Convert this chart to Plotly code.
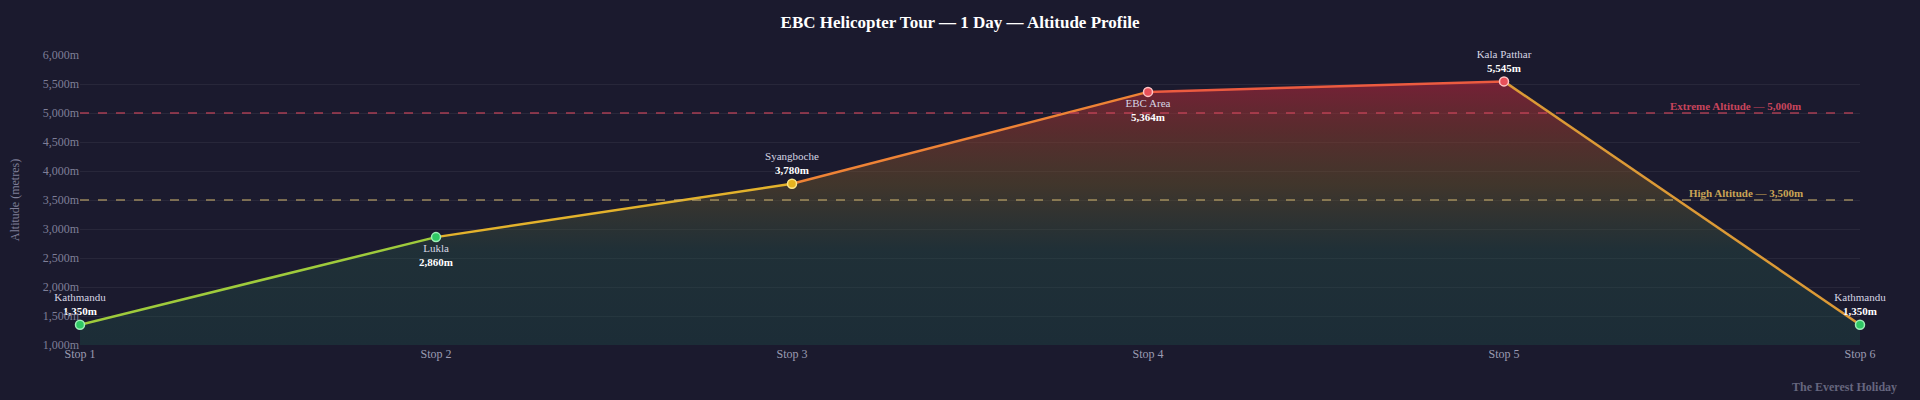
import plotly.graph_objects as go

# ---------------------------------------------------------------------------
# Data
# ---------------------------------------------------------------------------
stops = ["Stop 1", "Stop 2", "Stop 3", "Stop 4", "Stop 5", "Stop 6"]
places = ["Kathmandu", "Lukla", "Syangboche", "EBC Area", "Kala Patthar", "Kathmandu"]
altitudes = [1350, 2860, 3780, 5364, 5545, 1350]
label_pos = ["top center", "bottom center", "top center", "bottom center", "top center", "top center"]

high_alt = 3500
extreme_alt = 5000

# segment colours (approximate the altitude-coloured stroke)
segment_colors = ["#9fcb3c", "#e3b22c", "#ee8336", "#ec5b40", "#dc9a36"]

BG = "#1b1a2e"
FONT = "Liberation Serif"


def marker_style(alt):
    if alt >= extreme_alt:
        return "#e8505a", "#ffc4c4"
    if alt >= high_alt:
        return "#e6b320", "#fde68a"
    return "#2fc864", "#9ef0b8"


fills = [marker_style(a)[0] for a in altitudes]
outlines = [marker_style(a)[1] for a in altitudes]
labels = [
    f"<span style='color:#d6d6e4'>{p}</span><br><b>{a:,}m</b>"
    for p, a in zip(places, altitudes)
]

fig = go.Figure()

# gradient area under the profile
fig.add_trace(go.Scatter(
    x=stops, y=altitudes,
    mode="lines",
    line=dict(width=0),
    fill="tozeroy",
    fillgradient=dict(
        type="vertical",
        start=1000, stop=5600,
        colorscale=[
            [0.0, "rgba(30,80,72,0.35)"],
            [0.35, "rgba(40,88,72,0.35)"],
            [0.6, "rgba(120,95,40,0.40)"],
            [0.8, "rgba(145,60,45,0.52)"],
            [1.0, "rgba(175,35,60,0.62)"],
        ],
    ),
    hoverinfo="skip",
    showlegend=False,
))

# coloured line segments
for i in range(len(stops) - 1):
    fig.add_trace(go.Scatter(
        x=stops[i:i + 2], y=altitudes[i:i + 2],
        mode="lines",
        line=dict(color=segment_colors[i], width=2.5),
        hoverinfo="skip",
        showlegend=False,
        cliponaxis=False,
    ))

# markers + labels
fig.add_trace(go.Scatter(
    x=stops, y=altitudes,
    mode="markers+text",
    marker=dict(size=9, color=fills, line=dict(color=outlines, width=1.5)),
    text=labels,
    textposition=label_pos,
    textfont=dict(family=FONT, size=11, color="#ffffff"),
    cliponaxis=False,
    showlegend=False,
))

# reference lines
fig.add_hline(y=extreme_alt, line=dict(color="rgba(214,72,92,0.75)", width=1.5, dash="dash"))
fig.add_hline(y=high_alt, line=dict(color="rgba(205,180,110,0.7)", width=1.5, dash="dash"))

fig.add_annotation(
    xref="x domain", x=0.968, xanchor="right",
    y=extreme_alt, yanchor="bottom", yshift=-1,
    text="<b>Extreme Altitude — 5,000m</b>",
    showarrow=False,
    font=dict(family=FONT, size=11, color="#c8455c"),
)
fig.add_annotation(
    xref="x domain", x=0.969, xanchor="right",
    y=high_alt, yanchor="bottom", yshift=-1,
    text="<b>High Altitude — 3,500m</b>",
    showarrow=False,
    font=dict(family=FONT, size=11, color="#c9a455"),
)
fig.add_annotation(
    xref="paper", x=1.022, xanchor="right",
    yref="paper", y=-0.146, yanchor="middle",
    text="<b>The Everest Holiday</b>",
    showarrow=False,
    font=dict(family=FONT, size=12, color="#66667e"),
)

fig.update_layout(
    width=1920, height=400,
    paper_bgcolor=BG, plot_bgcolor=BG,
    font=dict(family=FONT, color="#8a8aa2"),
    margin=dict(l=80, r=60, t=55, b=55),
    title=dict(
        text="<b>EBC Helicopter Tour — 1 Day — Altitude Profile</b>",
        x=0.5, xanchor="center", y=0.945, yanchor="middle",
        font=dict(family=FONT, size=17, color="#ffffff"),
    ),
    xaxis=dict(
        range=[0, 5],
        showgrid=False, zeroline=False, showline=False,
        tickfont=dict(family=FONT, size=12, color="#9c9cb2"),
        ticks="",
    ),
    yaxis=dict(
        range=[1000, 6000],
        dtick=500,
        tickformat=",",
        ticksuffix="m",
        gridcolor="rgba(255,255,255,0.06)",
        zeroline=False, showline=False,
        tickfont=dict(family=FONT, size=12, color="#7f7f98"),
        title=dict(text="Altitude (metres)", font=dict(family=FONT, size=12, color="#7f7f98"), standoff=20),
    ),
)

# drop the default page margin so the 1920x400 figure fills the window
fig.write_html(
    "out.html",
    config={"displayModeBar": False},
    post_script="document.body.style.margin='0';document.body.style.overflow='hidden';",
)
